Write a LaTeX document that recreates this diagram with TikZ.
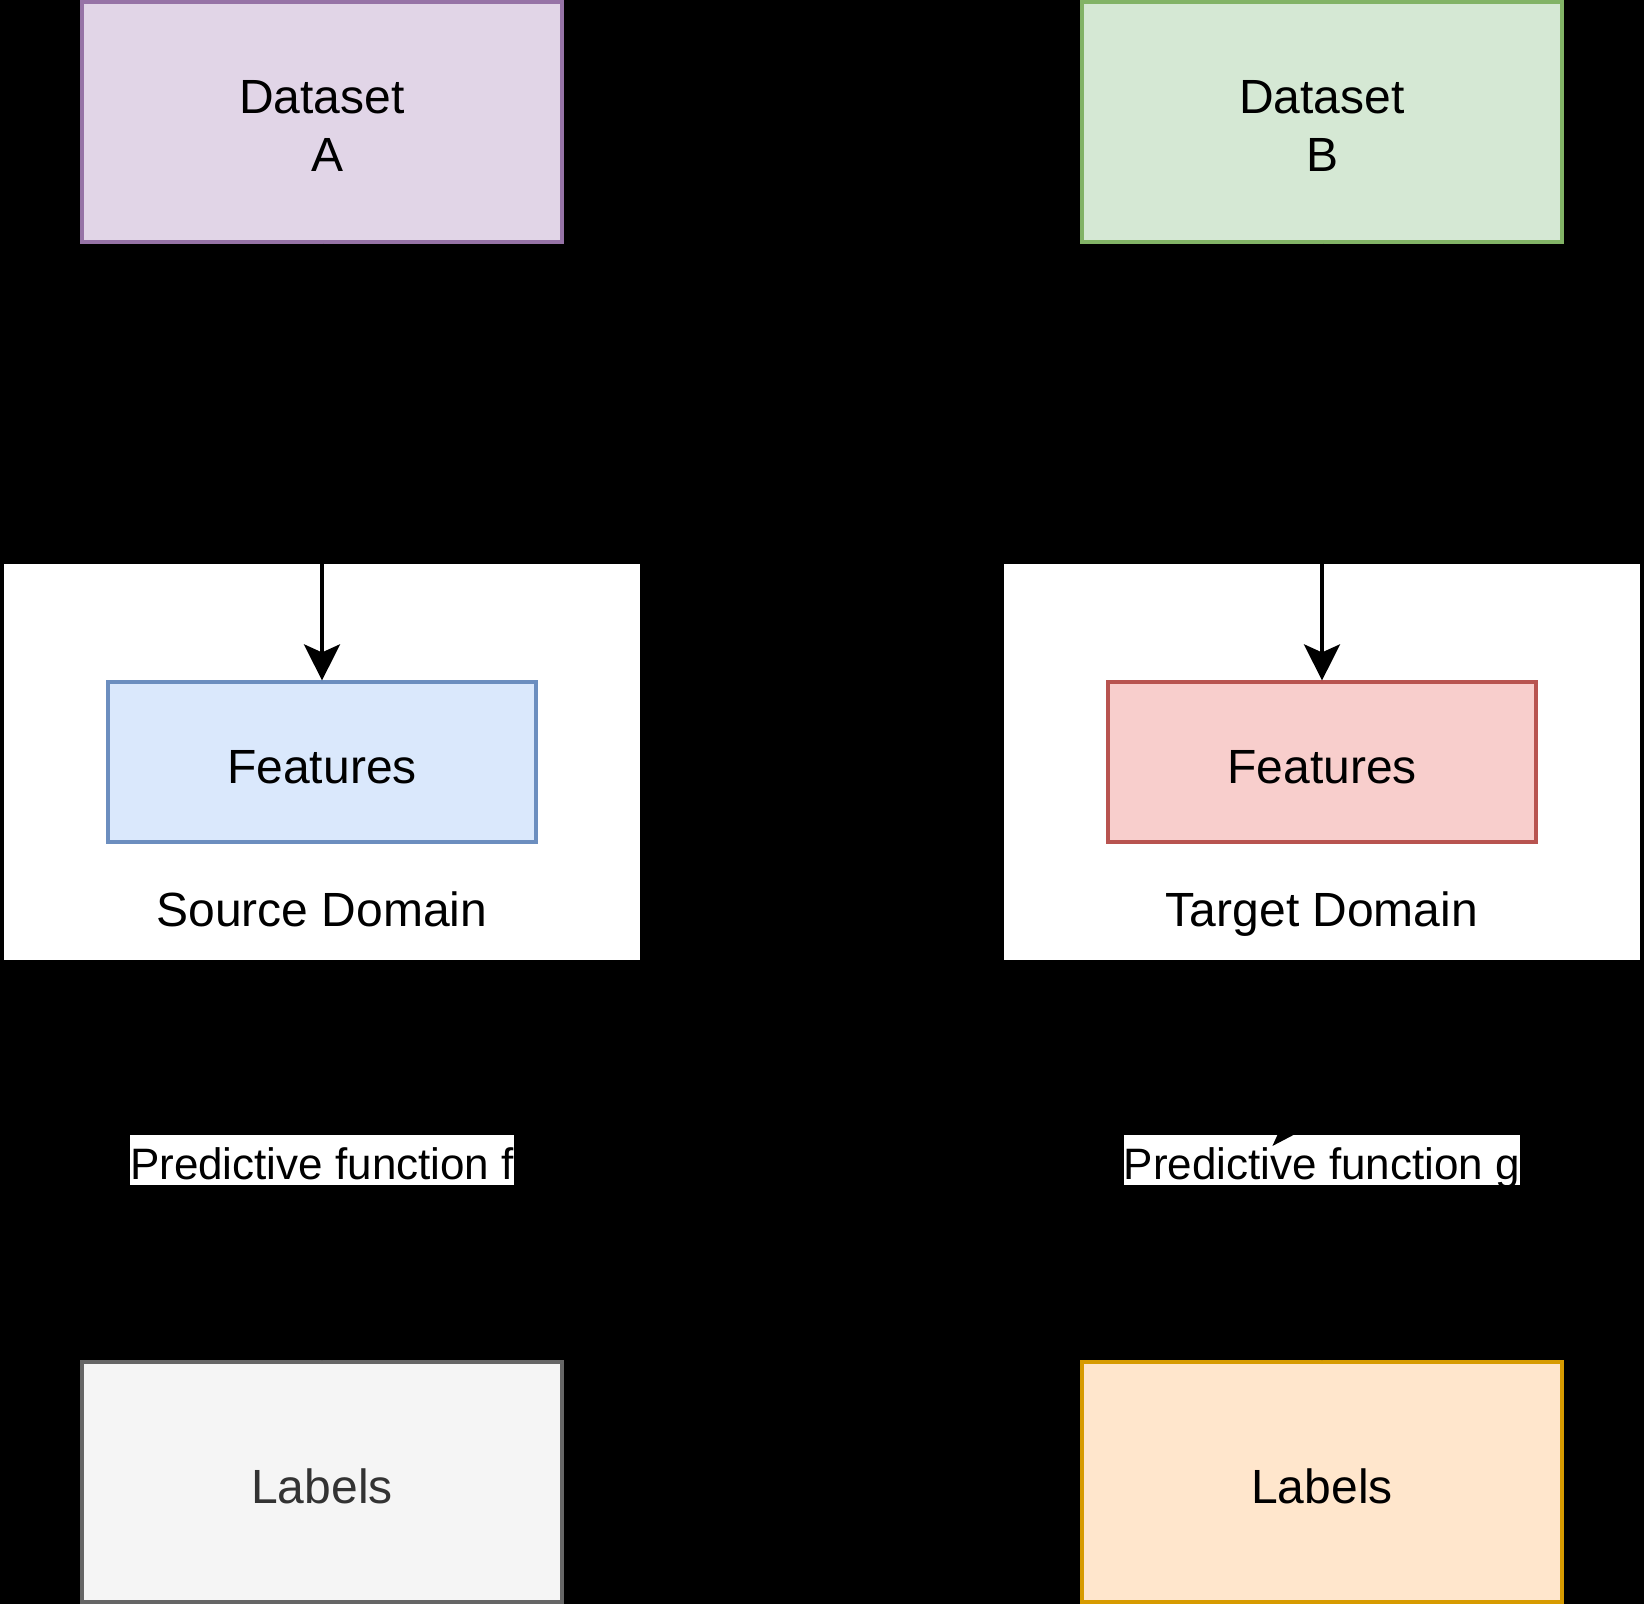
\documentclass[tikz,border=0pt]{standalone}
\usepackage{fontspec}
\setmainfont{Liberation Sans}
\usetikzlibrary{arrows.meta}

\definecolor{purpleFill}{HTML}{E1D5E7}
\definecolor{purpleLine}{HTML}{9673A6}
\definecolor{greenFill}{HTML}{D5E8D4}
\definecolor{greenLine}{HTML}{82B366}
\definecolor{blueFill}{HTML}{DAE8FC}
\definecolor{blueLine}{HTML}{6C8EBF}
\definecolor{redFill}{HTML}{F8CECC}
\definecolor{redLine}{HTML}{B85450}
\definecolor{grayFill}{HTML}{F5F5F5}
\definecolor{grayLine}{HTML}{666666}
\definecolor{grayText}{HTML}{333333}
\definecolor{orangeFill}{HTML}{FFE6CC}
\definecolor{orangeLine}{HTML}{D79B00}

\begin{document}
\begin{tikzpicture}[x=1pt, y=-1pt,
    box/.style={draw, line width=1.6pt, inner sep=0pt, align=center,
      minimum width=240pt, minimum height=120pt,
      font=\fontsize{24}{28.8}\selectfont},
    featbox/.style={box, minimum width=214pt, minimum height=80pt,
      text height=21pt, text depth=0pt},
    domainbox/.style={fill=white, inner sep=0pt, minimum width=318pt, minimum height=198pt},
    arr/.style={line width=2pt, -{Stealth[length=18pt, width=18pt, inset=4pt]}},
    fnlabel/.style={fill=white, inner sep=0pt, text height=22pt, text depth=3pt,
      font=\fontsize{22}{26}\selectfont}]

    % Background
    \fill[black] (0,0) rectangle (822,802);
    \useasboundingbox (0,0) rectangle (822,802);

    % Source side
    \begin{scope}[xshift=0pt]
      \node[domainbox] (srcdom) at (161,381) {};
      \node[anchor=base, font=\fontsize{24}{28.8}\selectfont] (srclbl) at (161,463) {Source Domain};

      \node[box, fill=purpleFill, draw=purpleLine] (dataA) at (161,61) {};
      \node[align=center, font=\fontsize{24}{28.8}\selectfont] (dataAtxt) at (161,63) {Dataset\\\hspace*{0.22em}A};
      \node[featbox, fill=blueFill, draw=blueLine] (featA) at (161,381) {Features};
      \node[box, fill=grayFill, draw=grayLine, text=grayText, text height=21pt, text depth=0pt]
        (labA) at (161,741) {Labels};

      \draw[arr] (dataA) -- (featA);
      \draw[arr] (srcdom) -- node[fnlabel] (fnf) {Predictive function f} (labA);
    \end{scope}

    % Target side
    \begin{scope}[xshift=500pt]
      \node[domainbox] (tgtdom) at (161,381) {};
      \node[anchor=base, font=\fontsize{24}{28.8}\selectfont] (tgtlbl) at (161,463) {Target Domain};

      \node[box, fill=greenFill, draw=greenLine] (dataB) at (161,61) {};
      \node[align=center, font=\fontsize{24}{28.8}\selectfont] (dataBtxt) at (161,63) {Dataset\\B};
      \node[featbox, fill=redFill, draw=redLine] (featB) at (161,381) {Features};
      \node[box, fill=orangeFill, draw=orangeLine, text height=21pt, text depth=0pt]
        (labB) at (161,741) {Labels};

      \draw[arr] (dataB) -- (featB);
      \draw[arr] (tgtdom) -- node[fnlabel] (fng) {Predictive function g} (labB);

      % bit of a tip over the label
      \fill[black] (136.2,573) -- (138.7,567.5) -- (146.7,567.5) -- cycle;
    \end{scope}
  \end{tikzpicture}
\end{document}
